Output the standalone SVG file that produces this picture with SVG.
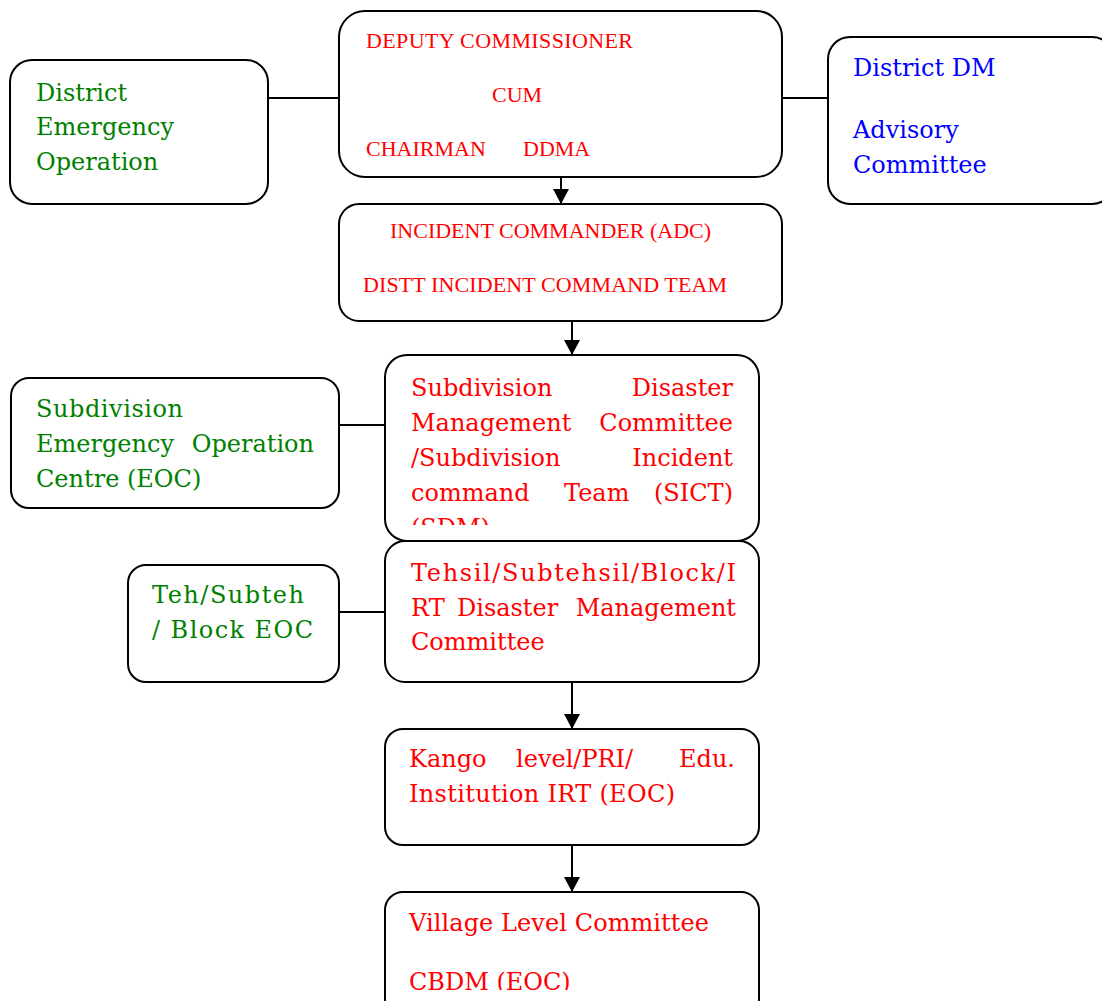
<svg xmlns="http://www.w3.org/2000/svg" width="1102" height="1001" viewBox="0 0 1102 1001">
<defs>
<style>
.box{fill:#fff;stroke:#000;stroke-width:2}
.ln{fill:none;stroke:#000;stroke-width:2}
.b{font-family:"DejaVu Serif","Liberation Serif",serif;font-size:24px}
.c{font-family:"Liberation Serif","DejaVu Serif",serif;font-size:22px;fill:#ff0000}
.r{fill:#ff0000}.g{fill:#008000}.u{fill:#0000ff}
</style>
<marker id="ah" markerUnits="userSpaceOnUse" markerWidth="16" markerHeight="16" refX="15" refY="8" orient="auto">
<path d="M0,0 L15,8 L0,16 Z" fill="#000"/>
</marker>
<clipPath id="clipSub"><rect x="386" y="356" width="372" height="169"/></clipPath>
<clipPath id="clipVil"><rect x="386" y="893" width="372" height="97"/></clipPath>
</defs>
<rect width="1102" height="1001" fill="#fff"/>
<g id="connectors">
<line class="ln" x1="268" y1="98" x2="339" y2="98"/>
<line class="ln" x1="782" y1="98" x2="828" y2="98"/>
<line class="ln" x1="561" y1="177" x2="561" y2="204" marker-end="url(#ah)"/>
<line class="ln" x1="572" y1="321" x2="572" y2="355" marker-end="url(#ah)"/>
<line class="ln" x1="339" y1="425" x2="385" y2="425"/>
<line class="ln" x1="339" y1="612" x2="385" y2="612"/>
<line class="ln" x1="572" y1="682" x2="572" y2="729" marker-end="url(#ah)"/>
<line class="ln" x1="572" y1="845" x2="572" y2="892" marker-end="url(#ah)"/>
</g>
<g id="deputy-commissioner">
<rect class="box" x="339" y="11" width="443" height="166" rx="26"/>
<text class="c" x="366" y="48" textLength="267" lengthAdjust="spacing">DEPUTY COMMISSIONER</text>
<text class="c" x="492" y="102">CUM</text>
<text class="c" x="366" y="156">CHAIRMAN</text>
<text class="c" x="523" y="156">DDMA</text>
</g>
<g id="district-eoc">
<rect class="box" x="10" y="60" width="258" height="144" rx="22"/>
<text class="b g" x="36" y="101">District</text>
<text class="b g" x="36" y="135">Emergency</text>
<text class="b g" x="36" y="170">Operation</text>
</g>
<g id="advisory-committee">
<rect class="box" x="828" y="37" width="286" height="167" rx="22"/>
<text class="b u" x="853" y="76">District DM</text>
<text class="b u" x="853" y="138">Advisory</text>
<text class="b u" x="853" y="173">Committee</text>
</g>
<g id="incident-commander">
<rect class="box" x="339" y="204" width="443" height="117" rx="20"/>
<text class="c" x="390" y="238">INCIDENT COMMANDER (ADC)</text>
<text class="c" x="363" y="292" textLength="364" lengthAdjust="spacing">DISTT INCIDENT COMMAND TEAM</text>
</g>
<g id="subdivision-eoc">
<rect class="box" x="11" y="378" width="328" height="130" rx="18"/>
<text class="b g" x="36" y="417" textLength="147" lengthAdjust="spacing">Subdivision</text>
<text class="b g" x="36" y="452">Emergency</text>
<text class="b g" x="314" y="452" text-anchor="end">Operation</text>
<text class="b g" x="36" y="487">Centre (EOC)</text>
</g>
<g id="subdivision-dmc">
<rect class="box" x="385" y="355" width="374" height="186" rx="22"/>
<g clip-path="url(#clipSub)">
<text class="b r" x="411" y="396">Subdivision</text>
<text class="b r" x="733" y="396" text-anchor="end">Disaster</text>
<text class="b r" x="411" y="431">Management</text>
<text class="b r" x="733" y="431" text-anchor="end">Committee</text>
<text class="b r" x="411" y="466">/Subdivision</text>
<text class="b r" x="733" y="466" text-anchor="end">Incident</text>
<text class="b r" x="411" y="501">command</text>
<text class="b r" x="564" y="501">Team</text>
<text class="b r" x="733" y="501" text-anchor="end">(SICT)</text>
<text class="b r" x="411" y="536">(SDM)</text>
</g>
</g>
<g id="block-eoc">
<rect class="box" x="128" y="565" width="211" height="117" rx="18"/>
<text class="b g" x="152" y="603" textLength="152" lengthAdjust="spacing">Teh/Subteh</text>
<text class="b g" x="152" y="638" textLength="161" lengthAdjust="spacing">/ Block EOC</text>
</g>
<g id="tehsil-dmc">
<rect class="box" x="385" y="541" width="374" height="141" rx="20"/>
<text class="b r" x="411" y="581" textLength="325" lengthAdjust="spacing">Tehsil/Subtehsil/Block/I</text>
<text class="b r" x="411" y="616">RT</text>
<text class="b r" x="457" y="616">Disaster</text>
<text class="b r" x="736" y="616" text-anchor="end">Management</text>
<text class="b r" x="411" y="650">Committee</text>
</g>
<g id="kango-level">
<rect class="box" x="385" y="729" width="374" height="116" rx="18"/>
<text class="b r" x="409" y="767">Kango</text>
<text class="b r" x="516" y="767">level/PRI/</text>
<text class="b r" x="735" y="767" text-anchor="end">Edu.</text>
<text class="b r" x="409" y="802" textLength="266" lengthAdjust="spacing">Institution IRT (EOC)</text>
</g>
<g id="village-level">
<rect class="box" x="385" y="892" width="374" height="130" rx="18"/>
<g clip-path="url(#clipVil)">
<text class="b r" x="409" y="931" textLength="300" lengthAdjust="spacing">Village Level Committee</text>
<text class="b r" x="409" y="990">CBDM (EOC)</text>
</g>
</g>
</svg>
